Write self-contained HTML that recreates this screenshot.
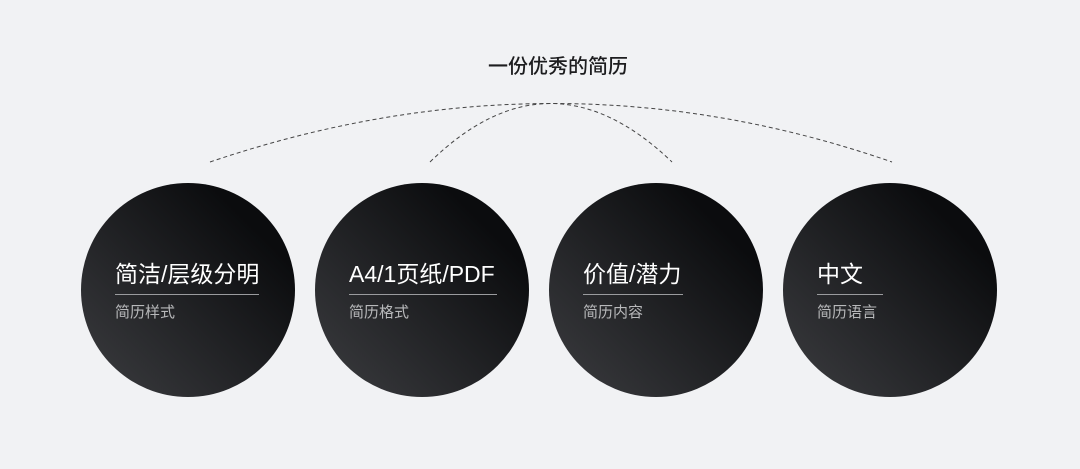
<!DOCTYPE html>
<html><head><meta charset="utf-8"><style>
body{margin:0;width:1080px;height:469px;background:#f1f2f4;position:relative;overflow:hidden;font-family:"Liberation Sans","Noto Sans CJK SC",sans-serif}
.t{position:absolute;left:0;width:1080px;top:50px;text-align:center;font-size:20px;font-weight:500;color:#1d1d1f;padding-left:36px;box-sizing:border-box}
.c{position:absolute;top:183px;width:214px;height:214px;border-radius:50%;background:linear-gradient(225deg,#0b0c0e 20%,#2a2b2e 70%,#3c3d40 100%)}
.h{position:absolute;left:34px;top:72px;font-size:23px;color:#fff;white-space:nowrap}
.l{position:absolute;left:34px;top:111px;width:144px;height:1px;background:#9a9b9e}
.s{position:absolute;left:34px;top:118px;font-size:15px;color:#b8b9bb}
</style></head><body>
<div class="t">一份优秀的简历</div>
<svg width="1080" height="469" style="position:absolute;left:0;top:0">
<path d="M210 162 Q555 45 892 162" fill="none" stroke="#444" stroke-width="1" stroke-dasharray="4 3"/>
<path d="M430 162 Q550 45 672 162" fill="none" stroke="#444" stroke-width="1" stroke-dasharray="4 3"/>
</svg>
<div class="c" style="left:81px"><div class="h">简洁/层级分明</div><div class="l"></div><div class="s">简历样式</div></div>
<div class="c" style="left:315px"><div class="h">A4/1页纸/PDF</div><div class="l" style="width:148px"></div><div class="s">简历格式</div></div>
<div class="c" style="left:549px"><div class="h">价值/潜力</div><div class="l" style="width:100px"></div><div class="s">简历内容</div></div>
<div class="c" style="left:783px"><div class="h">中文</div><div class="l" style="width:66px"></div><div class="s">简历语言</div></div>
</body></html>
